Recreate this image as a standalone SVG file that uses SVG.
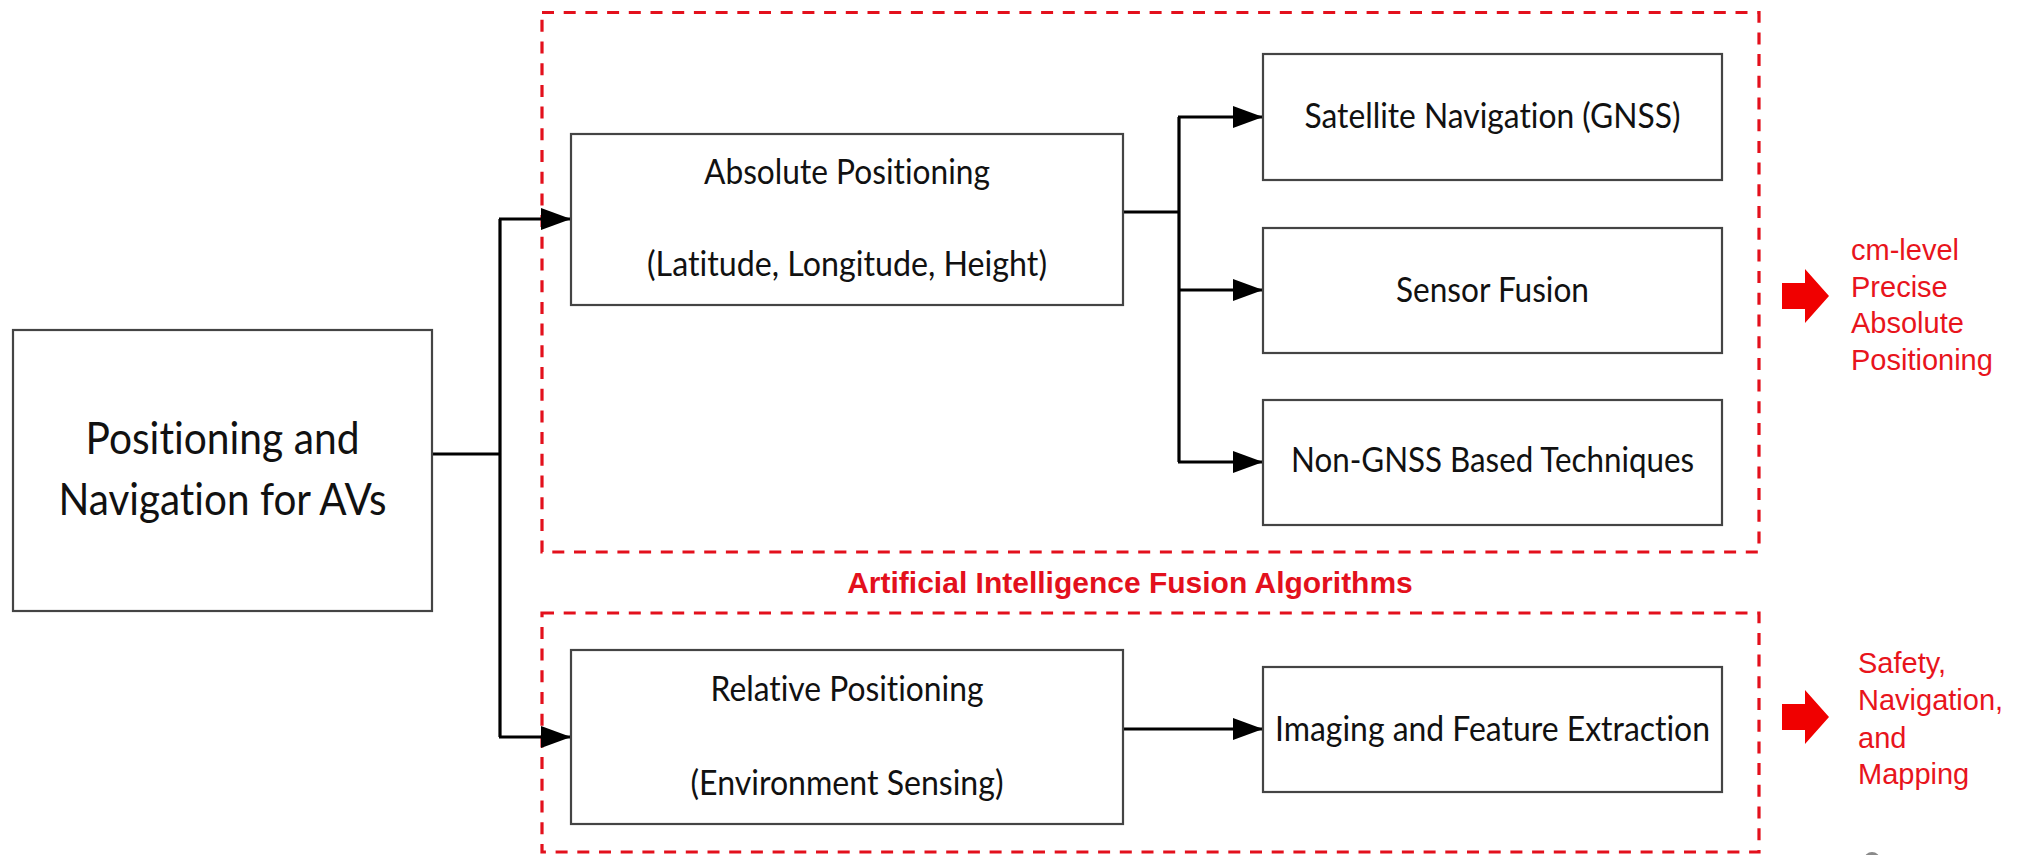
<svg xmlns="http://www.w3.org/2000/svg" width="2018" height="855" viewBox="0 0 2018 855">
<defs>
<style>
.box{fill:#fff;stroke:#444;stroke-width:2.2}
.t{font-family:Lato,"Liberation Sans",sans-serif;fill:#111;text-anchor:middle;font-variant-ligatures:none;font-feature-settings:"liga" 0,"clig" 0}
.m{font-size:34px}
.big{font-size:44px}
.con{fill:none;stroke:#000;stroke-width:3.2}
.grp{fill:none;stroke:#e3101c;stroke-width:3.2;stroke-dasharray:12 9.7}
.red{font-family:"Liberation Sans",Arial,sans-serif;fill:#e8141c;font-size:29px}
.ttl{font-family:"Liberation Sans",Arial,sans-serif;fill:#e3101c;font-size:30px;font-weight:bold;text-anchor:middle}
.blk{fill:#f00000}
</style>
<marker id="ah" markerUnits="userSpaceOnUse" markerWidth="30" markerHeight="22" refX="30" refY="11" orient="auto" viewBox="0 0 30 22">
<path d="M0,0 L30,11 L0,22 Z" fill="#000"/>
</marker>
</defs>
<rect width="2018" height="855" fill="#fff"/>

<g id="groups">
<rect class="grp" x="542" y="12.5" width="1217" height="539.5"/>
<rect class="grp" x="542" y="613" width="1217" height="239"/>
<text class="ttl" x="1130" y="593">Artificial Intelligence Fusion Algorithms</text>
</g>

<g id="connectors">
<path class="con" d="M432,454 H500 M500,219 V737"/>
<path class="con" d="M499,219 H571" marker-end="url(#ah)"/>
<path class="con" d="M499,737 H571" marker-end="url(#ah)"/>
<path class="con" d="M1123,212 H1179 M1179,117 V462"/>
<path class="con" d="M1178,117 H1263" marker-end="url(#ah)"/>
<path class="con" d="M1178,290 H1263" marker-end="url(#ah)"/>
<path class="con" d="M1178,462 H1263" marker-end="url(#ah)"/>
<path class="con" d="M1123,729 H1263" marker-end="url(#ah)"/>
</g>

<g id="main">
<rect class="box" x="13" y="330" width="419" height="281"/>
<text class="t big" x="222.5" y="454" textLength="274" lengthAdjust="spacingAndGlyphs">Positioning and</text>
<text class="t big" x="222.5" y="515" textLength="328" lengthAdjust="spacingAndGlyphs">Navigation for AVs</text>
</g>

<g id="absolute">
<rect class="box" x="571" y="134" width="552" height="171"/>
<text class="t m" x="847" y="184" textLength="286" lengthAdjust="spacingAndGlyphs">Absolute Positioning</text>
<text class="t m" x="847" y="276" textLength="400" lengthAdjust="spacingAndGlyphs">(Latitude, Longitude, Height)</text>
</g>

<g id="relative">
<rect class="box" x="571" y="650" width="552" height="174"/>
<text class="t m" x="847" y="701" textLength="273" lengthAdjust="spacingAndGlyphs">Relative Positioning</text>
<text class="t m" x="847" y="795" textLength="313" lengthAdjust="spacingAndGlyphs">(Environment Sensing)</text>
</g>

<g id="satellite">
<rect class="box" x="1263" y="54" width="459" height="126"/>
<text class="t m" x="1492.5" y="128" textLength="376" lengthAdjust="spacingAndGlyphs">Satellite Navigation (GNSS)</text>
</g>

<g id="sensor">
<rect class="box" x="1263" y="228" width="459" height="125"/>
<text class="t m" x="1492.5" y="302" textLength="193" lengthAdjust="spacingAndGlyphs">Sensor Fusion</text>
</g>

<g id="nongnss">
<rect class="box" x="1263" y="400" width="459" height="125"/>
<text class="t m" x="1492.5" y="472" textLength="403" lengthAdjust="spacingAndGlyphs">Non-GNSS Based Techniques</text>
</g>

<g id="imaging">
<rect class="box" x="1263" y="667" width="459" height="125"/>
<text class="t m" x="1492.5" y="741" textLength="435" lengthAdjust="spacingAndGlyphs">Imaging and Feature Extraction</text>
</g>

<g id="out-absolute">
<polygon class="blk" points="1782,283 1805,283 1805,269 1829,296 1805,323 1805,309 1782,309"/>
<text class="red" x="1851" y="260">cm-level</text>
<text class="red" x="1851" y="297">Precise</text>
<text class="red" x="1851" y="333">Absolute</text>
<text class="red" x="1851" y="370">Positioning</text>
</g>

<g id="out-relative">
<polygon class="blk" points="1782,704 1805,704 1805,690 1829,717 1805,744 1805,730 1782,730"/>
<text class="red" x="1858" y="673">Safety,</text>
<text class="red" x="1858" y="710">Navigation,</text>
<text class="red" x="1858" y="748">and</text>
<text class="red" x="1858" y="784">Mapping</text>
</g>

<circle cx="1872" cy="860" r="8" fill="#8a8a8a"/>
</svg>
